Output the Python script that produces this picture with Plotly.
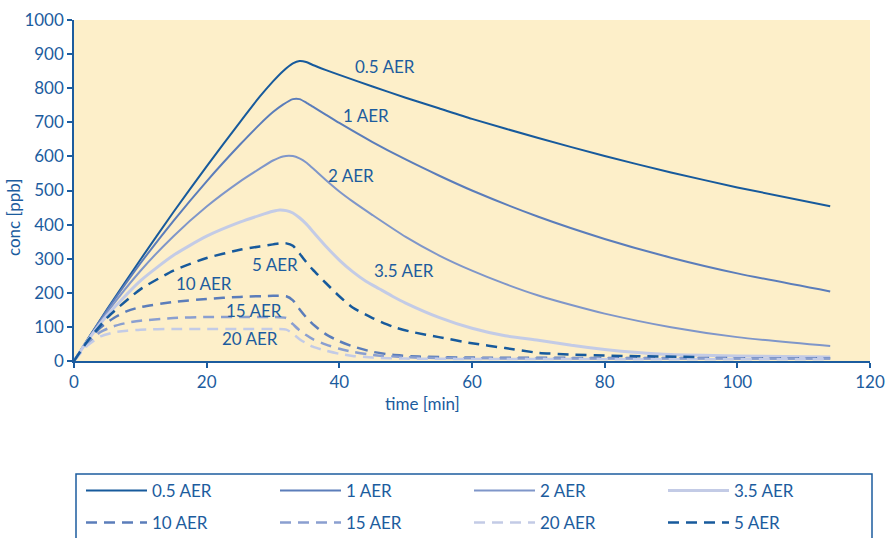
import plotly.graph_objects as go

# ---- data ----
t05 = [0, 2, 5, 10, 15, 20, 25, 28, 30, 31.5, 33, 34, 35, 36, 38, 40, 45, 50, 55, 60, 70, 80, 90, 100, 114]
c05 = [0, 62, 152, 297, 437, 571, 700, 775, 820, 850, 873, 880, 877, 868, 853, 839, 805, 772, 741, 710, 654, 601, 553, 509, 454]

t1 = [0, 2, 5, 10, 15, 20, 25, 28, 30, 31.5, 33, 34, 35, 36, 38, 40, 45, 50, 55, 60, 70, 80, 90, 100, 114]
c1 = [0, 61, 149, 286, 411, 527, 634, 694, 730, 752, 768, 768, 758, 746, 722, 698, 642, 591, 544, 500, 423, 358, 303, 257, 204]

t2 = [0, 2, 5, 10, 15, 20, 25, 28, 30, 31.5, 33, 34, 35, 36, 38, 40, 42, 45, 50, 55, 60, 65, 70, 75, 80, 90, 100, 114]
c2 = [0, 60, 143, 264, 366, 453, 526, 564, 588, 600, 601, 594, 582, 565, 530, 497, 468, 428, 364, 310, 265, 226, 192, 164, 139, 99, 70, 44]

t35 = [0, 2, 5, 10, 15, 20, 25, 28, 30, 31, 32, 33, 34, 35, 36, 38, 40, 42, 44, 46, 48, 50, 55, 60, 65, 70, 75, 80, 85, 90, 100, 114]
c35 = [0, 58, 134, 235, 310, 366, 407, 427, 439, 443, 441, 434, 420, 402, 380, 336, 296, 262, 234, 212, 190, 170, 128, 96, 74, 61, 46, 34, 25, 19, 15, 12]

t10 = [0, 2, 4, 6, 8, 10, 15, 20, 25, 30, 32, 33, 34, 35, 36, 38, 40, 42, 45, 48, 52, 60, 80, 114]
c10 = [0, 55, 98, 126, 146, 158, 173, 182, 188, 191, 190, 178, 152, 128, 108, 78, 58, 43, 27, 18, 13, 10, 9, 8]

t15 = [0, 2, 4, 6, 8, 10, 15, 20, 25, 30, 32, 33, 34, 35, 36, 38, 40, 42, 45, 50, 60, 114]
c15 = [0, 50, 85, 102, 112, 118, 126, 129, 129, 129, 126, 108, 90, 76, 64, 48, 36, 27, 18, 11, 8, 7]

t20 = [0, 2, 4, 6, 8, 10, 15, 20, 25, 30, 32, 33, 34, 35, 36, 38, 40, 42, 45, 50, 60, 114]
c20 = [0, 45, 72, 84, 89, 92, 94, 94, 94, 94, 92, 80, 64, 52, 42, 30, 21, 15, 10, 7, 6, 5]

t5 = [0, 2, 5, 10, 15, 20, 25, 28, 30, 31, 32, 33, 34, 35, 36, 38, 40, 42, 45, 48, 51, 55, 60, 65, 70, 75, 80, 85, 94]
c5 = [0, 57, 127, 210, 265, 302, 326, 336, 342, 345, 345, 338, 315, 290, 268, 228, 190, 157, 126, 101, 85, 70, 52, 38, 24, 19, 16, 14, 12]

series_names = ["0.5 AER", "1 AER", "2 AER", "3.5 AER", "10 AER", "15 AER", "20 AER", "5 AER"]

# in-plot labels
label_text = ["0.5 AER", "1 AER", "2 AER", "3.5 AER", "5 AER", "10 AER", "15 AER", "20 AER"]
label_x = [46.9, 44.0, 41.8, 49.8, 30.3, 19.6, 27.1, 26.5]
label_y = [863, 719, 545, 266, 284, 228, 148, 67]

x_ticks = [0, 20, 40, 60, 80, 100, 120]
y_ticks = [0, 100, 200, 300, 400, 500, 600, 700, 800, 900, 1000]

# ---- styles ----
BLUE = "#1c5c9e"
DARK = "#175a9c"
MED = "#5b7dba"
LIGHT = "#7f96c9"
PALE = "#c3cbe6"
MED15 = "#8a9fd0"
FONT = "Lato"
FS = 17

styles = [
    dict(color=DARK, width=2, dash="solid"),
    dict(color=MED, width=2, dash="solid"),
    dict(color=LIGHT, width=2, dash="solid"),
    dict(color=PALE, width=3, dash="solid"),
    dict(color=MED, width=2.5, dash="11px,7px"),
    dict(color=MED15, width=2.5, dash="11px,7px"),
    dict(color=PALE, width=2.5, dash="11px,7px"),
    dict(color=DARK, width=2.5, dash="11px,7px"),
]
data = [(t05, c05), (t1, c1), (t2, c2), (t35, c35), (t10, c10), (t15, c15), (t20, c20), (t5, c5)]

fig = go.Figure()
for i, ((tx, cy), nm, st) in enumerate(zip(data, series_names, styles)):
    fig.add_trace(go.Scatter(
        x=tx, y=cy, name=nm, mode="lines",
        line=dict(color=st["color"], width=st["width"], dash=st["dash"], shape="spline", smoothing=0.6),
        legend="legend" if i < 4 else "legend2",
    ))

for txt, lx, ly in zip(label_text, label_x, label_y):
    fig.add_annotation(x=lx, y=ly, text=txt, showarrow=False,
                       font=dict(family=FONT, size=FS, color=BLUE))

W, H = 886, 538
L, R, T, B = 74, 16, 20, 177
pw = W - L - R
ph = H - T - B

def px_to_paper_x(px):
    return (px - L) / pw

def px_to_paper_y(py):
    return (H - B - py) / ph

# axis titles placed as in the reference
fig.add_annotation(xref="paper", yref="paper", x=px_to_paper_x(422), y=px_to_paper_y(404),
                   xanchor="center", yanchor="middle",
                   text="time [min]", showarrow=False, font=dict(family=FONT, size=FS, color=BLUE))
fig.add_annotation(xref="paper", yref="paper", x=px_to_paper_x(14), y=px_to_paper_y(217),
                   xanchor="center", yanchor="middle",
                   text="conc [ppb]", textangle=-90, showarrow=False,
                   font=dict(family=FONT, size=FS, color=BLUE))

fig.add_shape(type="rect", xref="paper", yref="paper",
              x0=px_to_paper_x(76), x1=px_to_paper_x(872),
              y0=px_to_paper_y(474), y1=px_to_paper_y(570),
              line=dict(color=BLUE, width=1.5), fillcolor="rgba(0,0,0,0)", layer="above")

legend_common = dict(orientation="h", xanchor="left", yanchor="middle",
                     font=dict(family=FONT, size=FS, color=BLUE),
                     bgcolor="rgba(0,0,0,0)", borderwidth=0,
                     entrywidth=118, entrywidthmode="pixels", itemwidth=61)

fig.update_layout(
    width=W, height=H,
    margin=dict(l=L, r=R, t=T, b=B, autoexpand=False),
    paper_bgcolor="white",
    plot_bgcolor="#fdefc9",
    font=dict(family=FONT, size=FS, color=BLUE),
    showlegend=True,
    legend=dict(x=px_to_paper_x(81), y=px_to_paper_y(491), **legend_common),
    legend2=dict(x=px_to_paper_x(81), y=px_to_paper_y(523), **legend_common),
    xaxis=dict(range=[0, 120], tickvals=x_ticks, showgrid=False, zeroline=False,
               showline=True, linecolor=BLUE, linewidth=1.5,
               ticks="outside", ticklen=5, tickcolor=BLUE, tickwidth=1.5,
               tickfont=dict(family=FONT, size=FS, color=BLUE)),
    yaxis=dict(range=[0, 1000], tickvals=y_ticks, showgrid=False, zeroline=False,
               showline=True, linecolor=BLUE, linewidth=1.5,
               ticks="outside", ticklen=5, tickcolor=BLUE, tickwidth=1.5,
               tickfont=dict(family=FONT, size=FS, color=BLUE)),
)

fig.write_html("out.html")
